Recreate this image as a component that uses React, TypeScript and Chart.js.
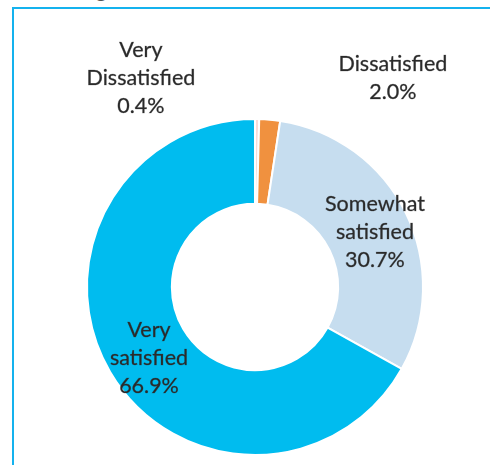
import React, { useEffect, useRef } from "react";
import { Chart, registerables } from "chart.js";

Chart.register(...registerables);

const categories = ["Very Dissatisfied", "Dissatisfied", "Somewhat satisfied", "Very satisfied"];
const values = [0.4, 2.0, 30.7, 66.9];
const labelLines = [
  ["Very", "Dissatisfied", "0.4%"],
  ["Dissatisfied", "2.0%"],
  ["Somewhat", "satisfied", "30.7%"],
  ["Very", "satisfied", "66.9%"],
];
const colors = ["#f6dcd8", "#f0913f", "#c6ddef", "#00bcef"];
// label anchor offsets relative to the doughnut centre, as fractions of outer radius
const labelOffsets = [
  [-0.679, -1.244],
  [0.821, -1.244],
  [0.714, -0.327],
  [-0.631, 0.423],
];

const FONT = "21.5px Lato, 'Open Sans', sans-serif";

const labelPlugin = {
  id: "sliceLabels",
  afterDatasetsDraw(chart: any) {
    const ctx = chart.ctx;
    const meta = chart.getDatasetMeta(0);
    ctx.save();
    ctx.font = FONT;
    ctx.fillStyle = "#2b2b2b";
    ctx.strokeStyle = "rgba(43,43,43,0.45)";
    ctx.lineWidth = 0.6;
    ctx.textAlign = "center";
    ctx.textBaseline = "middle";
    const lh = 28;
    meta.data.forEach((arc: any, i: number) => {
      const R = arc.outerRadius;
      const cx = arc.x + labelOffsets[i][0] * R;
      const cy = arc.y + labelOffsets[i][1] * R;
      const lines = labelLines[i];
      const y0 = cy - ((lines.length - 1) * lh) / 2;
      lines.forEach((t, j) => {
        ctx.fillText(t, cx, y0 + j * lh);
        ctx.strokeText(t, cx, y0 + j * lh);
      });
    });
    ctx.restore();
  },
};

export default function App() {
  const ref = useRef<HTMLCanvasElement>(null);
  useEffect(() => {
    const chart = new Chart(ref.current!, {
      type: "doughnut",
      data: {
        labels: categories,
        datasets: [
          {
            data: values,
            backgroundColor: colors,
            borderColor: "#ffffff",
            borderWidth: 2,
          },
        ],
      },
      options: {
        animation: false,
        responsive: false,
        cutout: "49.5%",
        layout: { padding: { left: 86, right: 66, top: 118, bottom: 9 } },
        plugins: { legend: { display: false }, tooltip: { enabled: false } },
      },
      plugins: [labelPlugin],
    });
    return () => chart.destroy();
  }, []);
  return (
    <div style={{ position: "fixed", left: 0, top: 0, width: 490, height: 465, background: "#fff", overflow: "hidden" }}>
      <div
        style={{
          position: "absolute",
          left: 30,
          top: -22,
          font: "18px 'Open Sans', sans-serif",
          color: "#555",
          whiteSpace: "nowrap",
        }}
      >
        following satisfaction levels
      </div>
      <div
        style={{
          position: "absolute",
          left: 12,
          top: 7,
          width: 490,
          height: 470,
          borderLeft: "2px solid #14b2ee",
          borderTop: "2px solid #14b2ee",
        }}
      />
      <canvas ref={ref} width={490} height={465} style={{ position: "absolute", left: 0, top: 0 }} />
    </div>
  );
}
